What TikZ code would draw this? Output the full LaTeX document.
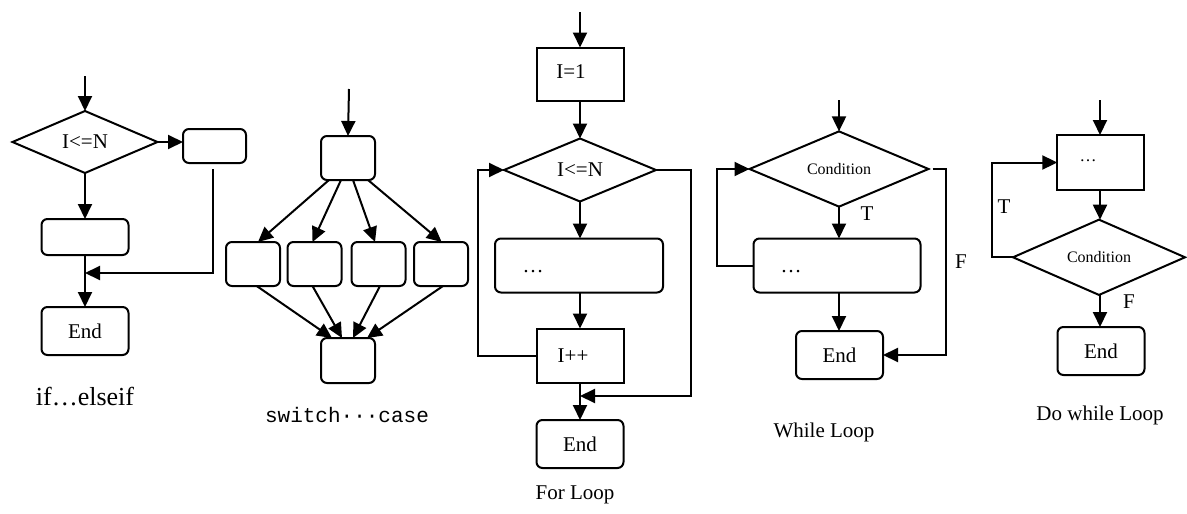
\documentclass[tikz,border=0pt]{standalone}
\usepackage{fontspec}
\setmainfont{Liberation Serif}
\setmonofont{Liberation Mono}
\usetikzlibrary{arrows.meta,shapes.geometric}
\begin{document}
\begin{tikzpicture}[x=1pt,y=-1pt,
  every node/.style={font=\fontsize{21}{25}\selectfont, inner sep=0pt, outer sep=0pt},
  arr/.style={line width=2pt, -{Triangle[length=15pt,width=14pt]}},
  sq/.style={draw, line width=2pt},
  rbox/.style={draw, line width=2pt, rounded corners=6pt},
  dia/.style={draw, line width=2pt, diamond},
  cond/.style={font=\fontsize{16}{19}\selectfont},
  endbox/.style={rbox, minimum width=87pt, minimum height=48pt}
]
\useasboundingbox (0,0) rectangle (1187,514);

% ---------------- if ... elseif ----------------
\coordinate (ifs) at (85,76);
\node[dia, minimum width=145pt, minimum height=62pt] (ifd) at (85,142) {I<=N};
\node[rbox, minimum width=63pt, minimum height=34pt] (ifr) at (214.5,146) {};
\node[rbox, minimum width=87pt, minimum height=36pt] (ifb) at (85,237) {};
\node[endbox] (ife) at (85,331) {End};
\coordinate (ifm) at (85,273);
\draw[arr] (ifs) -- (ifd.north);
\draw[arr] (ifd.east) -- (ifd.east -| ifr.west);
\draw[arr] (ifd.south) -- (ifb.north);
\draw[arr] (ifb.south) -- (ife.north);
\draw[arr] ([xshift=-2pt,yshift=-6pt]ifr.south) |- (ifm);
\node[font=\fontsize{26}{30}\selectfont] (iflab) at (85,397) {if…elseif};

% ---------------- switch ... case ----------------
\coordinate (sws) at (349,89);
\node[rbox, minimum width=54pt, minimum height=44pt] (sw0) at (348,158) {};
\node[rbox, minimum width=54pt, minimum height=44pt] (sw1) at (253,264) {};
\node[rbox, minimum width=54pt, minimum height=44pt] (sw2) at (314.5,264) {};
\node[rbox, minimum width=54pt, minimum height=44pt] (sw3) at (378.5,264) {};
\node[rbox, minimum width=54pt, minimum height=44pt] (sw4) at (441,264) {};
\node[rbox, minimum width=54pt, minimum height=45pt] (sw5) at (348,360.5) {};
\draw[arr] (sws) -- (sw0.north);
\draw[arr] ([xshift=-19pt]sw0.south) -- ([xshift=5pt]sw1.north);
\draw[arr] ([xshift=-7pt]sw0.south) -- ([xshift=-2pt]sw2.north);
\draw[arr] ([xshift=5pt]sw0.south) -- ([xshift=-3.5pt]sw3.north);
\draw[arr] ([xshift=20pt]sw0.south) -- ([xshift=0.7pt]sw4.north);
\draw[arr] ([xshift=3.7pt]sw1.south) -- ([xshift=-16pt]sw5.north);
\draw[arr] ([xshift=-2pt]sw2.south) -- ([xshift=-6pt]sw5.north);
\draw[arr] ([xshift=1.5pt]sw3.south) -- ([xshift=5pt]sw5.north);
\draw[arr] ([xshift=2pt]sw4.south) -- ([xshift=19pt]sw5.north);
\node[font=\ttfamily\fontsize{21}{25}\selectfont] (swlab) at (347,415) {switch···case};

% ---------------- for loop ----------------
\coordinate (fs) at (580,12);
\node[sq, minimum width=87pt, minimum height=53pt] (fi1) at (580,74) {};
\node (fi1t) at (571,72) {I=1};
\node[dia, minimum width=152pt, minimum height=63pt] (fd) at (580,170) {I<=N};
\node[rbox, minimum width=168pt, minimum height=54pt] (fb) at (579,265.5) {};
\node (fbt) at (533,272) {…};
\node[sq, minimum width=87pt, minimum height=54pt] (fi) at (580,355.5) {};
\node (fit) at (573,356) {I++};
\node[endbox] (fe) at (580,444) {End};
\coordinate (fm) at (580,396);
\draw[arr] (fs) -- (fi1.north);
\draw[arr] (fi1.south) -- (fd.north);
\draw[arr] (fd.south) -- (fd.south |- fb.north);
\draw[arr] (fd.south |- fb.south) -- (fi.north);
\draw[arr] (fi.south) -- (fe.north);
\draw[arr] (fi.west) -- ++(-59,0) |- (fd.west);
\draw[arr] (fd.east) -- ++(35,0) |- (fm);
\node (flab) at (575,495) {For Loop};

% ---------------- while loop ----------------
\coordinate (ws) at (839,100);
\node[dia, cond, minimum width=179pt, minimum height=64pt] (wd) at (839,169) {Condition};
\node[rbox, minimum width=167pt, minimum height=54pt] (wb) at (837,265.5) {};
\node (wbt) at (791,272) {…};
\node[endbox] (we) at (839.5,355) {End};
\draw[arr] (ws) -- (wd.north);
\draw[arr] (wd.south) -- (wd.south |- wb.north);
\draw[arr] (wd.south |- wb.south) -- (wd.south |- we.north);
\draw[arr] (wb.west) -- ++(-36.5,0) |- (wd.west);
\draw[arr] ([xshift=4pt]wd.east) -- ++(13.5,0) |- (we.east);
\node (wt) at (867,214) {T};
\node (wf) at (961,262) {F};
\node (wlab) at (824,432) {While Loop};

% ---------------- do while loop ----------------
\coordinate (ds) at (1100,100);
\node[sq, minimum width=87pt, minimum height=55pt] (db) at (1100.8,162.5) {};
\node[font=\fontsize{17}{20}\selectfont] (dbt) at (1088,161) {…};
\node[dia, cond, minimum width=172pt, minimum height=62pt] (dd) at (1099,257.3) {Condition};
\node[endbox] (de) at (1101,351) {End};
\draw[arr] (ds) -- (ds |- db.north);
\draw[arr] (ds |- db.south) -- (ds |- dd.north);
\draw[arr] (ds |- dd.south) -- (ds |- de.north);
\draw[arr] (dd.west) -- ++(-21,0) |- (db.west);
\node (dt) at (1004,207) {T};
\node (df) at (1129,302) {F};
\node (dlab) at (1100,415) {Do while Loop};
\end{tikzpicture}
\end{document}
